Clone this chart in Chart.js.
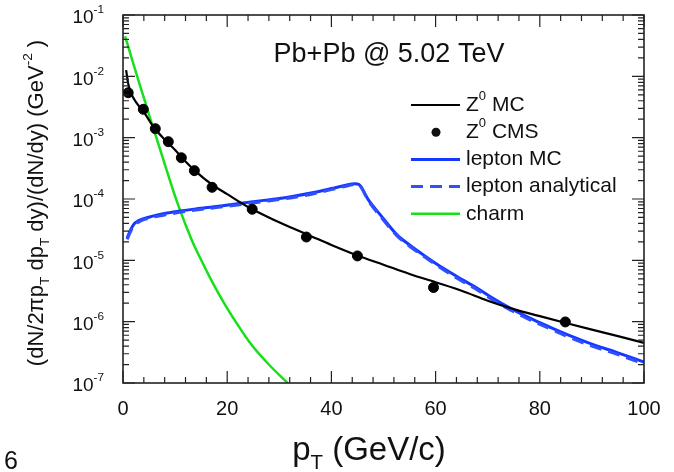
<!DOCTYPE html>
<html>
<head>
<meta charset="utf-8">
<script src="https://cdn.jsdelivr.net/npm/chart.js@4.4.0/dist/chart.umd.min.js"></script>
<style>
  html, body { margin: 0; padding: 0; background: #fff; }
</style>
</head>
<body>
<canvas id="ptChart" width="674" height="472"></canvas>
<script>
// ---- data ----
// Z0 MC (black line)
const zMcX = [0.6, 1, 1.5, 2.5, 4, 6, 8, 10, 12, 14, 17, 20, 24, 28, 32, 36, 40, 45, 50, 55, 60, 65, 70, 75, 80, 85, 90, 95, 100];
const zMcY = [1.26e-2, 7.6e-3, 5.4e-3, 3.8e-3, 2.6e-3, 1.45e-3, 9.3e-4, 6.3e-4, 4.1e-4, 2.8e-4, 1.74e-4, 1.2e-4, 7.4e-5, 5.0e-5, 3.5e-5, 2.5e-5, 1.78e-5, 1.2e-5, 8.5e-6, 6.0e-6, 4.4e-6, 3.2e-6, 2.2e-6, 1.6e-6, 1.23e-6, 9.5e-7, 7.4e-7, 5.8e-7, 4.5e-7];

// Z0 CMS (points)
const cmsX = [1.0, 3.9, 6.2, 8.7, 11.2, 13.7, 17.1, 24.8, 35.2, 45.0, 59.6, 84.9];
const cmsY = [5.4e-3, 2.9e-3, 1.4e-3, 8.6e-4, 4.7e-4, 2.9e-4, 1.55e-4, 6.8e-5, 2.4e-5, 1.18e-5, 3.6e-6, 9.9e-7];

// lepton MC (solid blue)
const lepMcX = [0.8, 1.5, 2.2, 2.9, 4, 5.5, 8, 10.6, 14, 18.3, 23, 27, 30, 33, 36.6, 40, 42.3, 44.5, 45.3, 47.1, 49.4, 52.6, 55, 58, 61.5, 65, 68, 71, 74.3, 78, 82, 86, 90, 95, 100];
const lepMcY = [2.3e-5, 3.2e-5, 4.0e-5, 4.4e-5, 4.8e-5, 5.2e-5, 5.8e-5, 6.3e-5, 6.9e-5, 7.6e-5, 8.6e-5, 9.5e-5, 1.02e-4, 1.12e-4, 1.28e-4, 1.48e-4, 1.64e-4, 1.78e-4, 1.72e-4, 9.7e-5, 5.5e-5, 2.6e-5, 1.78e-5, 1.17e-5, 7.4e-6, 4.9e-6, 3.5e-6, 2.4e-6, 1.66e-6, 1.15e-6, 8.1e-7, 5.8e-7, 4.3e-7, 3.1e-7, 2.2e-7];

// lepton analytical (dashed blue)
const lepAnX = [0.8, 1.5, 2.2, 3, 4, 5.5, 8, 10.6, 14, 18.3, 23, 27, 30, 33, 36.6, 40, 42.3, 44.5, 45.3, 47.1, 49.4, 52.6, 55, 58, 61.5, 65, 68, 71, 74.3, 78, 82, 86, 90, 95, 100];
const lepAnY = [2.2e-5, 3.0e-5, 3.8e-5, 4.2e-5, 4.6e-5, 5.0e-5, 5.5e-5, 6.0e-5, 6.6e-5, 7.3e-5, 8.2e-5, 9.1e-5, 9.8e-5, 1.07e-4, 1.22e-4, 1.42e-4, 1.58e-4, 1.72e-4, 1.68e-4, 9.3e-5, 5.2e-5, 2.5e-5, 1.7e-5, 1.12e-5, 7.0e-6, 4.6e-6, 3.3e-6, 2.25e-6, 1.56e-6, 1.08e-6, 7.6e-7, 5.4e-7, 4.0e-7, 2.9e-7, 2.05e-7];

// charm (green)
const charmX = [0.4, 1.65, 2.9, 4.1, 5.4, 6.6, 8.1, 9.65, 11.0, 12.3, 13.5, 14.8, 17.1, 19.6, 21.9, 24.4, 27.9, 31.6];
const charmY = [4.5e-2, 2.0e-2, 8.9e-3, 4.2e-3, 1.82e-3, 8.9e-4, 3.5e-4, 1.36e-4, 6.4e-5, 3.3e-5, 1.86e-5, 1.1e-5, 4.5e-6, 1.88e-6, 9.2e-7, 4.5e-7, 2.04e-7, 1.0e-7];

// axis ticks
const xTickVals = [0, 20, 40, 60, 80, 100];
const yTickExps = [-1, -2, -3, -4, -5, -6, -7];

const zip = (xs, ys) => xs.map((x, i) => ({ x: x, y: ys[i] }));

const BLACK = '#000000';
const BLUE = '#1438ff';
const BLUE_D = '#3050ff';
const GREEN = '#18e018';

// draw text with sub/superscript pieces, parts = [[text, kind], ...]
function richWidth(ctx, parts, size) {
  let w = 0;
  parts.forEach(p => {
    const s = p[1] === 'n' ? size : size * 0.62;
    ctx.font = s + 'px "Liberation Sans", Arial, sans-serif';
    w += ctx.measureText(p[0]).width;
  });
  return w;
}
function drawRich(ctx, parts, x, y, size, align) {
  const w = richWidth(ctx, parts, size);
  let cx = align === 'right' ? x - w : align === 'center' ? x - w / 2 : x;
  ctx.textAlign = 'left';
  ctx.textBaseline = 'middle';
  parts.forEach(p => {
    let s = size, dy = 0;
    if (p[1] === 'sup') { s = size * 0.62; dy = -size * 0.42; }
    if (p[1] === 'sub') { s = size * 0.62; dy = size * 0.38; }
    ctx.font = s + 'px "Liberation Sans", Arial, sans-serif';
    ctx.fillText(p[0], cx, y + dy);
    cx += ctx.measureText(p[0]).width;
  });
}

const rootStyle = {
  id: 'rootStyle',
  afterDraw(chart) {
    const ctx = chart.ctx;
    const a = chart.chartArea;
    const xs = chart.scales.x, ys = chart.scales.y;
    ctx.save();
    ctx.strokeStyle = '#222';
    ctx.fillStyle = '#000';
    ctx.lineWidth = 1.2;

    // ticks, inside, on all four sides
    ctx.beginPath();
    for (let v = 0; v <= 100; v += 4) {
      const px = xs.getPixelForValue(v);
      const len = v % 20 === 0 ? 12 : 6;
      ctx.moveTo(px, a.bottom); ctx.lineTo(px, a.bottom - len);
      ctx.moveTo(px, a.top); ctx.lineTo(px, a.top + len);
    }
    for (let e = -7; e <= -1; e++) {
      for (let m = 1; m <= 9; m++) {
        if (e === -1 && m > 1) break;
        const py = ys.getPixelForValue(m * Math.pow(10, e));
        const len = m === 1 ? 12 : 6;
        ctx.moveTo(a.left, py); ctx.lineTo(a.left + len, py);
        ctx.moveTo(a.right, py); ctx.lineTo(a.right - len, py);
      }
    }
    ctx.stroke();
    ctx.lineWidth = 1.6;
    ctx.strokeRect(a.left, a.top, a.right - a.left, a.bottom - a.top);

    // tick labels
    ctx.fillStyle = '#111';
    xTickVals.forEach(v => {
      drawRich(ctx, [[String(v), 'n']], xs.getPixelForValue(v), a.bottom + 26, 20, 'center');
    });
    yTickExps.forEach(e => {
      drawRich(ctx, [['10', 'n'], [String(e), 'sup']], 104, ys.getPixelForValue(Math.pow(10, e)) + 3, 19, 'right');
    });

    // axis titles
    drawRich(ctx, [['p', 'n'], ['T', 'sub'], [' (GeV/c)', 'n']], 369, 451, 33, 'center');
    ctx.save();
    ctx.translate(37, 203);
    ctx.rotate(-Math.PI / 2);
    drawRich(ctx, [['(dN/2\u03C0p', 'n'], ['T', 'sub'], [' dp', 'n'], ['T', 'sub'], [' dy)/(dN/dy) (GeV', 'n'], ['-2', 'sup'], [' )', 'n']], 0, 0, 22, 'center');
    ctx.restore();

    // system label
    drawRich(ctx, [['Pb+Pb @ 5.02 TeV', 'n']], 389, 55, 27, 'center');

    // legend
    const items = [
      { parts: [['Z', 'n'], ['0', 'sup'], [' MC', 'n']], ds: 0, kind: 'line' },
      { parts: [['Z', 'n'], ['0', 'sup'], [' CMS', 'n']], ds: 1, kind: 'dot' },
      { parts: [['lepton MC', 'n']], ds: 2, kind: 'line' },
      { parts: [['lepton analytical', 'n']], ds: 3, kind: 'line' },
      { parts: [['charm', 'n']], ds: 4, kind: 'line' }
    ];
    items.forEach((it, i) => {
      const y = 105 + i * 27.2;
      const ds = chart.data.datasets[it.ds];
      if (it.kind === 'line') {
        ctx.save();
        ctx.strokeStyle = ds.borderColor;
        ctx.lineWidth = ds.borderWidth;
        ctx.setLineDash(ds.borderDash || []);
        ctx.beginPath(); ctx.moveTo(411, y); ctx.lineTo(460, y); ctx.stroke();
        ctx.restore();
      } else {
        ctx.beginPath(); ctx.arc(436, y, 4.5, 0, Math.PI * 2); ctx.fill();
      }
      drawRich(ctx, it.parts, 466, y, 21, 'left');
    });

    // page number fragment at bottom left
    drawRich(ctx, [['6', 'n']], 4, 462, 25, 'left');
    ctx.restore();
  }
};

const ctx = document.getElementById('ptChart');
const ptChart = new Chart(ctx, {
  type: 'scatter',
  data: {
    datasets: [
      { label: 'Z0 MC', data: zip(zMcX, zMcY), showLine: true, borderColor: BLACK, borderWidth: 2.2, pointRadius: 0, cubicInterpolationMode: 'monotone', order: 1 },
      { label: 'Z0 CMS', data: zip(cmsX, cmsY), showLine: false, backgroundColor: BLACK, borderColor: BLACK, pointRadius: 5, order: 0 },
      { label: 'lepton MC', data: zip(lepMcX, lepMcY), showLine: true, borderColor: BLUE, borderWidth: 3, pointRadius: 0, cubicInterpolationMode: 'monotone', order: 3 },
      { label: 'lepton analytical', data: zip(lepAnX, lepAnY), showLine: true, borderColor: BLUE_D, borderWidth: 3, borderDash: [12, 7], pointRadius: 0, cubicInterpolationMode: 'monotone', order: 2 },
      { label: 'charm', data: zip(charmX, charmY), showLine: true, borderColor: GREEN, borderWidth: 2.5, pointRadius: 0, cubicInterpolationMode: 'monotone', order: 4 }
    ]
  },
  options: {
    responsive: false,
    animation: false,
    devicePixelRatio: 1,
    layout: { padding: { top: 15, right: 30, left: 0, bottom: 0 } },
    plugins: { legend: { display: false }, tooltip: { enabled: false } },
    scales: {
      x: {
        type: 'linear', min: 0, max: 100,
        ticks: { display: false }, grid: { display: false }, border: { display: false },
        afterFit(s) { s.height = 472 - 383; }
      },
      y: {
        type: 'logarithmic', min: 1e-7, max: 1e-1,
        ticks: { display: false }, grid: { display: false }, border: { display: false },
        afterFit(s) { s.width = 123; }
      }
    }
  },
  plugins: [rootStyle]
});
</script>
</body>
</html>
